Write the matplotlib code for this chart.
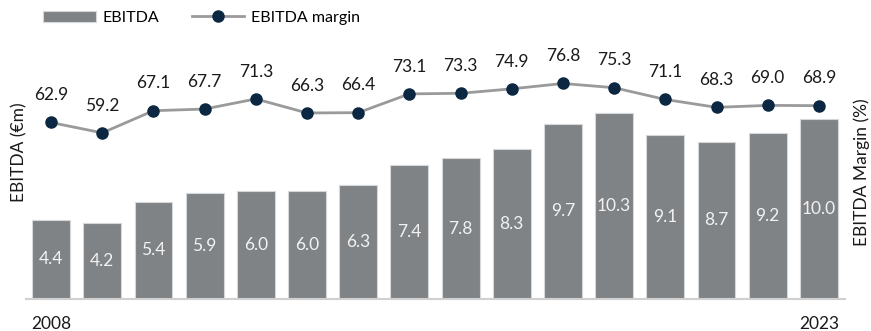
import numpy as np
import matplotlib.pyplot as plt

plt.rcParams['font.family'] = ['Lato', 'DejaVu Sans']

# EBITDA by year (EUR m) and EBITDA margin (%)
years = list(range(2008, 2024))
ebitda = [4.4, 4.2, 5.4, 5.9, 6.0, 6.0, 6.3, 7.4, 7.8, 8.3, 9.7, 10.3, 9.1, 8.7, 9.2, 10.0]
margin = [62.9, 59.2, 67.1, 67.7, 71.3, 66.3, 66.4, 73.1, 73.3, 74.9, 76.8, 75.3, 71.1, 68.3, 69.0, 68.9]

bar_col = '#7f8386'
line_col = '#9a9a9a'
dot_col = '#0b2741'

fig = plt.figure(figsize=(8.71, 3.31), dpi=100)
ax = fig.add_axes([26/871, 32/331, 819/871, 259/331])
ax2 = ax.twinx()

x = np.arange(len(years))
bars = ax.bar(x, ebitda, width=0.74, color=bar_col, edgecolor='#d5d7d8', linewidth=0.8,
              label='EBITDA', zorder=2)
ax.bar_label(bars, labels=[f'{v:.1f}' for v in ebitda], label_type='center',
             color='#f2f2f2', fontsize=12.5)

ax2.plot(x, margin, color=line_col, linewidth=2, marker='o', markersize=8,
         markerfacecolor=dot_col, markeredgecolor=dot_col, label='EBITDA margin', zorder=3)
for xi, m in zip(x, margin):
    ax2.annotate(f'{m:.1f}', (xi, m), xytext=(0, 16), textcoords='offset points',
                 ha='center', va='baseline', fontsize=12.5, color='#1a1a1a')

ax.set_xlim(-0.49, 15.51)
ax.set_ylim(0, 14.35)
ax2.set_ylim(0, 92.3)

# only first and last year shown on the axis
ax.set_xticks([0, len(years) - 1])
ax.set_xticklabels([str(years[0]), str(years[-1])], fontsize=12.5, color='#1a1a1a')
ax.tick_params(axis='x', length=0, pad=12)
ax.set_yticks([])
ax2.set_yticks([])

for a in (ax, ax2):
    for s in ('top', 'left', 'right'):
        a.spines[s].set_visible(False)
    a.spines['bottom'].set_color('#d0d0d0')
    a.spines['bottom'].set_linewidth(1.5)
ax2.spines['bottom'].set_visible(False)

fig.text(19/871, 1 - 152/331, 'EBITDA (€m)', rotation=90, ha='center', va='center',
         fontsize=12.5, color='#1a1a1a')
fig.text(862/871, 1 - 172/331, 'EBITDA Margin (%)', rotation=90, ha='center', va='center',
         fontsize=12.5, color='#1a1a1a')

h1, l1 = ax.get_legend_handles_labels()
h2, l2 = ax2.get_legend_handles_labels()
fig.legend(h1 + h2, l1 + l2, loc='center left', bbox_to_anchor=(43/871, 1 - 18/331),
           ncol=2, frameon=False, fontsize=11.5, borderpad=0, borderaxespad=0,
           handlelength=3.3, handletextpad=0.45, columnspacing=2.0)

fig.savefig('out.png', dpi=100)
